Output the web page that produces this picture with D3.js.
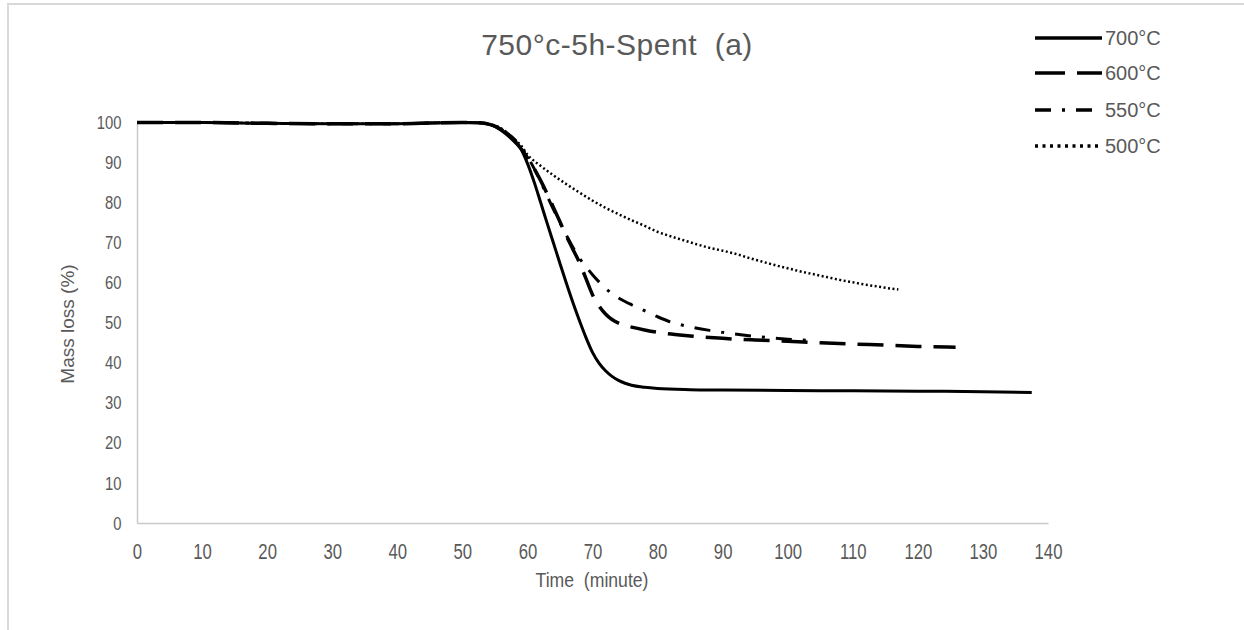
<!DOCTYPE html>
<html>
<head>
<meta charset="utf-8">
<script src="https://cdn.jsdelivr.net/npm/d3@7"></script>
<style>
  html, body { margin: 0; padding: 0; background: #fff; }
  svg { display: block; }
  text { font-family: "Liberation Sans", Arial, sans-serif; fill: #595959; white-space: pre; }
</style>
</head>
<body>
<svg id="chart" width="1244" height="630"></svg>
<script>
// ---------- data ----------
const chartTitle = "750\u00B0c-5h-Spent  (a)";
const xTitle = "Time  (minute)";
const yTitle = "Mass loss (%)";
const xTicks = [0,10,20,30,40,50,60,70,80,90,100,110,120,130,140];
const yTicks = [0,10,20,30,40,50,60,70,80,90,100];
const seriesNames = ["700\u00B0C", "600\u00B0C", "550\u00B0C", "500\u00B0C"];

const t700 = [0,10,20,30,40,50,53,54,55,56,57,58,59,60,61,62,63,64,65,66,67,68,69,70,71,72,73,74,75,76,78,80,85,90,100,110,120,130,137.5];
const m700 = [100,100,99.8,99.7,99.7,100,99.9,99.6,99.0,98.0,96.7,95.2,93.4,89.8,85.3,80.2,75.0,69.9,64.8,59.8,55.0,50.5,46.3,42.6,39.9,38.0,36.6,35.6,34.9,34.4,33.9,33.6,33.3,33.2,33.1,33.0,32.9,32.8,32.6];

const t600 = [0,10,20,30,40,50,53,54,55,56,57,58,59,60,61,62,63,64,65,66,67,68,69,70,71,72,73,74,75,76,78,80,85,90,95,100,105,110,115,120,125.8];
const m600 = [100,100,99.8,99.7,99.7,100,99.9,99.6,99.1,98.2,97.0,95.5,93.5,91.2,88.6,85.6,82.3,78.8,75.2,71.6,68.3,65.0,61.0,57.0,54.2,52.2,50.8,49.9,49.3,48.9,48.2,47.6,46.7,46.1,45.7,45.4,45.0,44.7,44.4,44.1,43.9];

const t550 = [0,10,20,30,40,50,53,54,55,56,57,58,59,60,61,62,63,64,65,66,67,68,69,70,71,72,73,74,75,76,78,80,82,85,88,90,95,100,103];
const m550 = [100,100,99.8,99.7,99.7,100,99.9,99.6,99.1,98.3,97.2,95.8,93.9,91.5,88.6,85.3,81.8,78.3,75.0,71.8,68.8,66.1,64.0,62.0,60.2,58.6,57.3,56.2,55.3,54.5,53.0,51.5,50.2,49.0,48.1,47.6,46.6,45.9,45.6];

const t500 = [0,10,20,30,40,50,53,54,55,56,57,58,59,60,62,64,66,68,70,72,74,76,78,80,82,84,86,88,90,92,94,96,98,100,102,104,106,108,110,112,114,116,117];
const m500 = [100,100,99.8,99.7,99.7,100,99.9,99.6,99.2,98.5,97.2,95.8,94.3,92.0,89.2,86.8,84.6,82.5,80.5,78.7,77.1,75.6,74.2,72.7,71.6,70.6,69.6,68.7,68.0,67.2,66.2,65.3,64.4,63.6,62.8,62.1,61.4,60.7,60.1,59.5,59.0,58.5,58.3];

const seriesT = [t700, t600, t550, t500];
const seriesM = [m700, m600, m550, m500];

// ---------- styles ----------
const styles = [
  { width: 3,   dash: null,           legendDash: null },
  { width: 3.5, dash: "26,12",        legendDash: "30,12" },
  { width: 3,   dash: "16,11,3,11",   legendDash: "16,11,3,11" },
  { width: 2.5, dash: "2,2.5",        legendDash: "3,4.5" }
];

const svg = d3.select("#chart");

// outer frame
svg.append("rect")
  .attr("x", 8).attr("y", 4).attr("width", 1250).attr("height", 640)
  .attr("fill", "none").attr("stroke", "#d9d9d9").attr("stroke-width", 2);

const x = d3.scaleLinear().domain([0, 140]).range([137, 1048]);
const y = d3.scaleLinear().domain([0, 100]).range([523, 122.5]);

// axes
const gx = svg.append("g").attr("transform", `translate(0,${y(0)})`)
  .call(d3.axisBottom(x).tickValues(xTicks).tickSizeInner(0).tickSizeOuter(0).tickPadding(20));
gx.select(".domain").attr("stroke", "#c9c9c9").attr("stroke-width", 1.5);
gx.selectAll(".tick text").attr("font-size", 22).attr("fill", "#595959")
  .attr("transform", "scale(0.76,1)")
  .style("font-family", "'Liberation Sans', Arial, sans-serif");

const gy = svg.append("g").attr("transform", `translate(${x(0)},0)`)
  .call(d3.axisLeft(y).tickValues(yTicks).tickSizeInner(0).tickSizeOuter(0).tickPadding(20));
gy.select(".domain").attr("stroke", "#c9c9c9").attr("stroke-width", 1.5);
gy.selectAll(".tick text").attr("font-size", 19).attr("fill", "#595959")
  .attr("transform", "scale(0.78,1)")
  .style("font-family", "'Liberation Sans', Arial, sans-serif");

// lines
const line = d3.line().curve(d3.curveMonotoneX);
seriesT.forEach((ts, i) => {
  const pts = ts.map((t, j) => [x(t), y(seriesM[i][j])]);
  svg.append("path")
    .attr("d", line(pts))
    .attr("fill", "none")
    .attr("stroke", "#000")
    .attr("stroke-width", styles[i].width)
    .attr("stroke-dasharray", styles[i].dash);
});

// title
svg.append("text")
  .attr("x", 617).attr("y", 55)
  .attr("text-anchor", "middle")
  .attr("font-size", 30)
  .attr("letter-spacing", 0.5)
  .text(chartTitle);

// axis titles
svg.append("text")
  .attr("transform", `translate(592,587) scale(0.84,1)`)
  .attr("text-anchor", "middle")
  .attr("font-size", 21)
  .text(xTitle);

svg.append("text")
  .attr("transform", `translate(74,324) rotate(-90)`)
  .attr("text-anchor", "middle")
  .attr("font-size", 19)
  .text(yTitle);

// legend
const legendY = [38, 73, 110, 146];
seriesNames.forEach((name, i) => {
  svg.append("line")
    .attr("x1", 1035).attr("x2", 1102)
    .attr("y1", legendY[i]).attr("y2", legendY[i])
    .attr("stroke", "#000")
    .attr("stroke-width", 3.5)
    .attr("stroke-dasharray", styles[i].legendDash);
  svg.append("text")
    .attr("x", 1105).attr("y", legendY[i] + 7)
    .attr("font-size", 20)
    .text(name);
});
</script>
</body>
</html>
